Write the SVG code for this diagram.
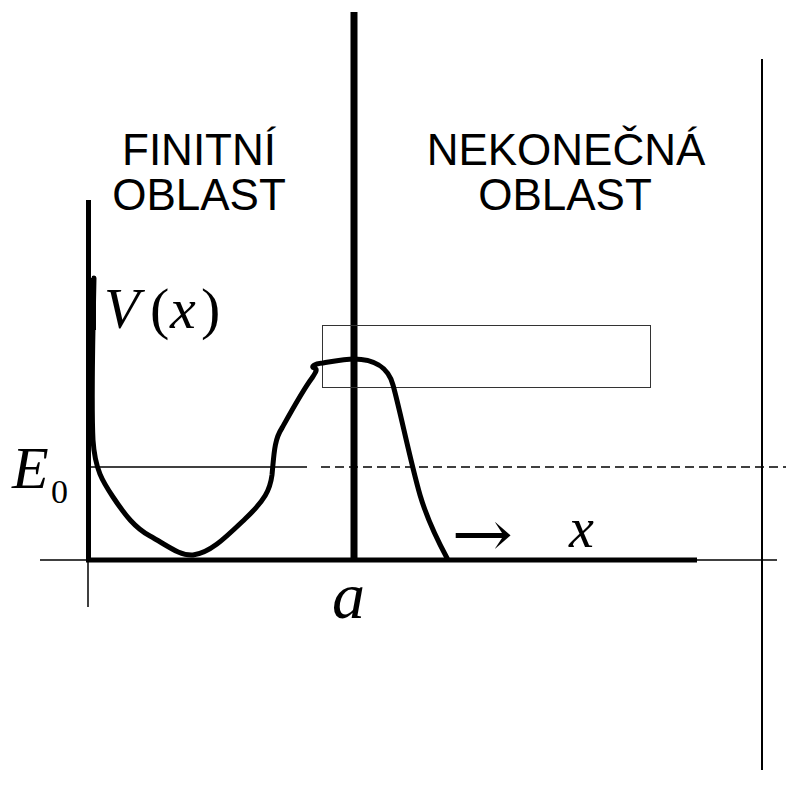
<svg xmlns="http://www.w3.org/2000/svg" width="786" height="792" viewBox="0 0 786 792">
<style>
.lbl{font-family:"Liberation Sans",Arial,sans-serif;font-size:44px;fill:#000;text-anchor:middle}
.m{font-family:"Liberation Serif","Times New Roman",serif;fill:#000}
.i{font-style:italic}
.thick{stroke:#000;stroke-width:5;fill:none}
.thin{stroke:#000;stroke-width:1.5;fill:none}
</style>
<rect width="786" height="792" fill="#fff"/>
<g id="axes">
<line class="thin" x1="40" y1="560" x2="777" y2="560"/>
<line class="thin" x1="88" y1="560" x2="88" y2="607"/>
<line x1="762" y1="59" x2="762" y2="770" stroke="#000" stroke-width="2"/>
<line class="thick" x1="88.5" y1="200" x2="88.5" y2="562"/>
<line class="thick" x1="86" y1="560" x2="697" y2="560"/>
<line x1="354" y1="12" x2="354" y2="560" stroke="#000" stroke-width="7"/>
</g>
<g id="energy">
<line class="thin" x1="88" y1="467" x2="307" y2="467"/>
<line class="thin" x1="321" y1="467" x2="786" y2="467" stroke-dasharray="9 5"/>
</g>
<g id="box">
<rect x="322.5" y="325.5" width="328" height="62" fill="none" stroke="#333" stroke-width="1"/>
</g>
<g id="potential">
<path d="M91,278 L96,278 L96,330 L91,330 Z" fill="#000"/>
<path class="thick" stroke-width="5.5" stroke-linejoin="round" stroke-linecap="round" d="M94,278 C93,330 91,400 93,440 C95,470 103,482 113,497 C125,515 135,528 150,536 C168,546 180,556 193,555 C210,553 225,538 245,519 C265,500 270,490 272,475 C274,455 274,440 282,428 C292,410 303,390 312,378 C316,372 318,369 314,368 C311,367 313,364 323,363 C335,361 345,359 354,359 C372,359 388,366 393,385 C400,410 410,460 420,495 C428,522 440,545 447,558"/>
</g>
<g id="labels">
<text class="lbl" x="199" y="165">FINITNÍ</text>
<text class="lbl" x="199" y="210">OBLAST</text>
<text class="lbl" x="566" y="165">NEKONEČNÁ</text>
<text class="lbl" x="565" y="210">OBLAST</text>
<text class="m" font-size="58" y="328"><tspan class="i" x="104">V</tspan><tspan x="150">(</tspan><tspan class="i" x="170">x</tspan><tspan x="201">)</tspan></text>
<text class="m i" font-size="60" x="12" y="488">E</text>
<text class="m" font-size="34" x="51" y="503">0</text>
<text class="m i" font-size="66" x="332" y="618">a</text>
<text class="m i" font-size="56" x="569" y="547">x</text>
<text transform="translate(451.5,556) scale(1.15,1)" font-family="DejaVu Serif,serif" font-size="64" fill="#000">→</text>
</g>
</svg>
